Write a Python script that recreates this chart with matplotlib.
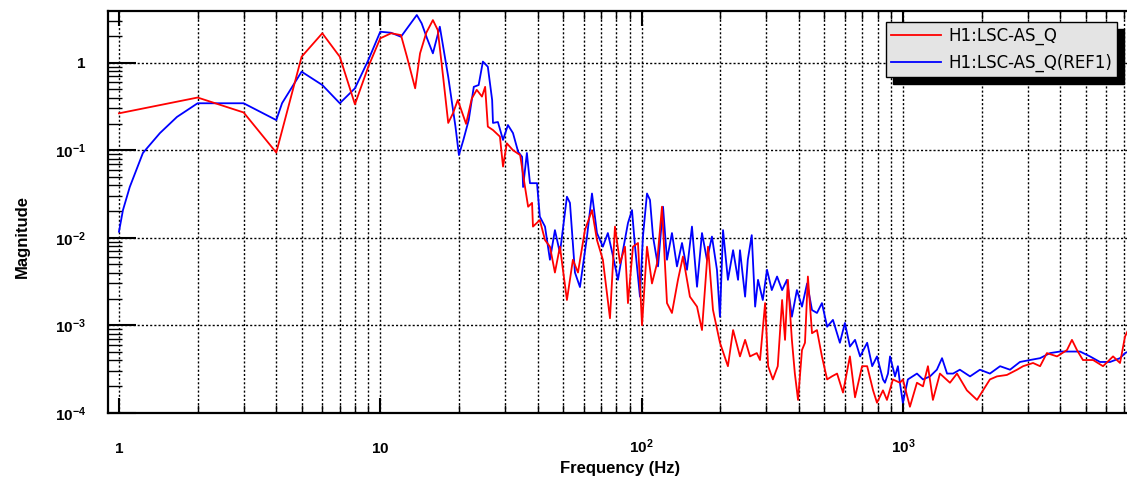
import matplotlib
matplotlib.use("Agg")
import matplotlib.pyplot as plt
from matplotlib.ticker import FixedLocator, FixedFormatter, LogLocator, NullFormatter

# (frequency Hz, magnitude)
red_pts = [
    (1, 0.264), (2, 0.40), (3, 0.27), (4, 0.094), (5, 1.17), (6, 2.17), (7, 1.17),
    (8, 0.335), (9, 0.90), (10, 1.90), (11, 2.17), (12, 2.07), (12.65, 1.17),
    (13.6, 0.51), (14.2, 1.28), (15.0, 2.2), (15.9, 3.07), (16.6, 2.36), (17.4, 0.69),
    (18.2, 0.205), (19.0, 0.266), (19.8, 0.375), (21.3, 0.20), (22.4, 0.39),
    (23.4, 0.49), (24.5, 0.41), (25.2, 0.53), (25.8, 0.186), (27.0, 0.17),
    (28.7, 0.143), (29.5, 0.065), (30.5, 0.12), (32.2, 0.10), (34.3, 0.088),
    (35.8, 0.038), (36.8, 0.0226), (38.1, 0.025), (38.4, 0.0134), (40.8, 0.0159),
    (42.7, 0.0094), (44.6, 0.0079), (46.6, 0.0040), (48.7, 0.0079), (51.8, 0.00194),
    (54.6, 0.0056), (57.1, 0.0040), (60.7, 0.0122), (64.6, 0.0207), (67.5, 0.0094),
    (71.1, 0.0056), (75.7, 0.0012), (79.1, 0.0134), (82.7, 0.0051), (86.4, 0.0079),
    (88.7, 0.00179), (92.7, 0.0079), (96.9, 0.0087), (100.4, 0.0010), (104.9, 0.0079),
    (109.6, 0.0030), (114.6, 0.0051), (119.7, 0.0226), (125.1, 0.00179),
    (130.7, 0.00138), (137.8, 0.0033), (144.0, 0.0061), (153.1, 0.00212),
    (163.0, 0.00163), (170.3, 0.00088), (179.6, 0.0079), (187.6, 0.0015),
    (199.5, 0.00063), (214, 0.00034), (224, 0.00088), (238, 0.00044), (249, 0.00068),
    (260, 0.00044), (276, 0.00048), (284, 0.00040), (297, 0.00179), (305, 0.00034),
    (318, 0.00024), (332, 0.00034), (345, 0.00194), (354, 0.00068), (363, 0.0033),
    (376, 0.00068), (386, 0.00028), (397, 0.00014), (411, 0.00052), (422, 0.00063),
    (433, 0.0036), (449, 0.00081), (469, 0.00088), (490, 0.00044), (513, 0.00024),
    (535, 0.00026), (560, 0.00028), (590, 0.00017), (627, 0.00044), (656, 0.00015),
    (698, 0.00034), (730, 0.00034), (769, 0.00018), (796, 0.00013), (839, 0.00018),
    (869, 0.00014), (916, 0.00024), (974, 0.00022), (1000, 0.00024), (1064, 0.000117),
    (1132, 0.00022), (1194, 0.00020), (1247, 0.00034), (1303, 0.00014), (1386, 0.00028),
    (1514, 0.00022), (1611, 0.00028), (1758, 0.00018), (1922, 0.00014), (2027, 0.00018),
    (2153, 0.00024), (2291, 0.00026), (2500, 0.00027), (2735, 0.00031), (2884, 0.00034),
    (3148, 0.00037), (3350, 0.00034), (3557, 0.00048), (3890, 0.00044), (4246, 0.00052),
    (4436, 0.00068), (4637, 0.00052), (4887, 0.00040), (5345, 0.00040), (5834, 0.00034),
    (6372, 0.00044), (6776, 0.00037), (7080, 0.00074), (7300, 0.0009),
]

blue_pts = [
    (1, 0.0117), (1.036, 0.0207), (1.10, 0.038), (1.235, 0.093), (1.435, 0.157),
    (1.667, 0.24), (2, 0.344), (3, 0.344), (4, 0.221), (4.21, 0.345), (5, 0.79),
    (6, 0.556), (7, 0.344), (8, 0.51), (9, 1.07), (10, 2.26), (11, 2.20), (12, 1.98),
    (13.8, 3.51), (14.4, 2.82), (15.1, 1.90), (15.9, 1.28), (16.9, 2.58), (18.2, 0.69),
    (19.4, 0.186), (20.0, 0.088), (20.8, 0.131), (21.8, 0.221), (22.8, 0.53),
    (23.8, 0.556), (24.7, 1.03), (25.8, 0.90), (26.8, 0.375), (27.0, 0.205),
    (28.2, 0.21), (29.5, 0.131), (30.8, 0.194), (32.2, 0.157), (33.7, 0.096),
    (34.9, 0.084), (35.2, 0.038), (36.4, 0.093), (37.4, 0.042), (39.8, 0.042),
    (40.8, 0.0174), (42.7, 0.0134), (44.6, 0.0056), (46.6, 0.0122), (48.7, 0.0067),
    (51.8, 0.0294), (53.2, 0.025), (55.6, 0.0040), (58.1, 0.00273), (61.8, 0.0102),
    (64.6, 0.032), (67.5, 0.0113), (71.1, 0.0079), (74.3, 0.0113), (77.8, 0.0061),
    (81.2, 0.0033), (84.9, 0.0072), (88.7, 0.0147), (91.9, 0.0207), (94.4, 0.0079),
    (98.6, 0.00212), (101.2, 0.0103), (104.9, 0.032), (107.7, 0.027), (110.6, 0.0103),
    (115.6, 0.0047), (120.8, 0.0226), (125.1, 0.0056), (130.7, 0.0113), (136.6, 0.0047),
    (142.8, 0.0087), (149.2, 0.0043), (155.9, 0.0134), (163.0, 0.00275), (170.3, 0.0113),
    (177.9, 0.0056), (185.9, 0.0103), (194.3, 0.0043), (199.5, 0.00125), (205, 0.0122),
    (214, 0.0033), (224, 0.0072), (234, 0.0033), (238, 0.0072), (249, 0.00212),
    (255, 0.0056), (264, 0.0107), (272, 0.00163), (279, 0.0033), (291, 0.00194),
    (302, 0.0043), (315, 0.00252), (330, 0.0036), (345, 0.00252), (360, 0.0033),
    (376, 0.00125), (393, 0.00252), (411, 0.00163), (430, 0.0030), (449, 0.00149),
    (469, 0.00138), (490, 0.00179), (513, 0.00096), (540, 0.00115), (574, 0.00063),
    (600, 0.00106), (627, 0.00057), (656, 0.00068), (686, 0.00044), (730, 0.00063),
    (763, 0.00034), (796, 0.00044), (839, 0.00024), (854, 0.00022), (877, 0.00028),
    (893, 0.00044), (933, 0.00026), (957, 0.00034), (974, 0.00022), (1000, 0.00013),
    (1045, 0.00024), (1132, 0.00028), (1194, 0.00024), (1270, 0.00026), (1349, 0.00031),
    (1412, 0.00042), (1476, 0.00028), (1556, 0.00028), (1652, 0.00031), (1807, 0.00026),
    (1972, 0.00031), (2153, 0.00028), (2355, 0.00034), (2570, 0.00031), (2805, 0.00038),
    (3063, 0.00040), (3350, 0.00042), (3656, 0.00048), (3990, 0.00050), (4357, 0.00050),
    (4764, 0.00050), (5200, 0.00044), (5678, 0.00038), (6206, 0.00038), (6776, 0.00042),
    (7080, 0.00048), (7300, 0.00050),
]

red_freq, red_mag = zip(*red_pts)
blue_freq, blue_mag = zip(*blue_pts)

series_labels = ["H1:LSC-AS_Q", "H1:LSC-AS_Q(REF1)"]
x_ticks = [1, 10, 100, 1000]
x_ticklabels = [r"$\mathbf{1}$", r"$\mathbf{10}$", r"$\mathbf{10^{2}}$", r"$\mathbf{10^{3}}$"]
y_ticks = [1e-4, 1e-3, 1e-2, 1e-1, 1]
y_ticklabels = [r"$\mathbf{10^{-4}}$", r"$\mathbf{10^{-3}}$", r"$\mathbf{10^{-2}}$",
                r"$\mathbf{10^{-1}}$", r"$\mathbf{1}$"]

plt.rcParams["font.family"] = ["Liberation Sans", "DejaVu Sans"]
plt.rcParams["mathtext.fontset"] = "custom"
plt.rcParams["mathtext.rm"] = "Liberation Sans"
plt.rcParams["mathtext.bf"] = "Liberation Sans:bold"

fig = plt.figure(figsize=(11.27, 4.79), dpi=100)
# axes run past the right edge of the picture, like the cropped original
ax = fig.add_axes([108 / 1127, 1 - 412.7 / 479, 1032 / 1127, 401.7 / 479])

ax.plot(red_freq, red_mag, color="#ff0000", lw=1.3, label=series_labels[0], zorder=3)
ax.plot(blue_freq, blue_mag, color="#0000ff", lw=1.3, label=series_labels[1], zorder=2)

ax.set_xscale("log")
ax.set_yscale("log")
ax.set_xlim(0.908, 8080)
ax.set_ylim(1e-4, 3.9)

ax.xaxis.set_major_locator(FixedLocator(x_ticks))
ax.xaxis.set_major_formatter(FixedFormatter(x_ticklabels))
ax.xaxis.set_minor_locator(LogLocator(base=10, subs=range(2, 10), numticks=20))
ax.xaxis.set_minor_formatter(NullFormatter())
ax.yaxis.set_major_locator(FixedLocator(y_ticks))
ax.yaxis.set_major_formatter(FixedFormatter(y_ticklabels))
ax.yaxis.set_minor_locator(LogLocator(base=10, subs=range(2, 10), numticks=20))
ax.yaxis.set_minor_formatter(NullFormatter())

ax.grid(True, which="major", axis="both", color="black", lw=1.0, ls=(0, (1.5, 1.5)))
ax.grid(True, which="minor", axis="x", color="black", lw=1.0, ls=(0, (1.5, 1.5)))

ax.tick_params(axis="both", which="major", direction="in", width=1.5,
               top=True, right=False, labelsize=11, colors="black")
ax.tick_params(axis="both", which="minor", direction="in", width=1.0,
               top=True, right=False)
ax.tick_params(axis="x", which="major", length=11, pad=29)
ax.tick_params(axis="x", which="minor", length=6)
ax.tick_params(axis="y", which="major", length=20, pad=16)
ax.tick_params(axis="y", which="minor", length=10)
# keep the plain and the powered x labels on one baseline
for t in ax.xaxis.get_major_ticks():
    t.label1.set_verticalalignment("baseline")

for sp in ax.spines.values():
    sp.set_linewidth(1.6)

fig.text(620 / 1127, 1 - 468 / 479, "Frequency (Hz)", ha="center", va="center",
         fontsize=12, fontweight="bold")
fig.text(22 / 1127, 1 - 236 / 479, "Magnitude", ha="center", va="center",
         rotation=90, fontsize=12, fontweight="bold")

leg = ax.legend(loc="upper right", bbox_to_anchor=(1117 / 1127, 1 - 22 / 479),
                bbox_transform=fig.transFigure, borderaxespad=0,
                prop={"family": "DejaVu Sans", "size": 12}, handlelength=3.0,
                handletextpad=0.4, labelspacing=0.5, borderpad=0.3, fancybox=False,
                facecolor="#e4e4e4", edgecolor="black", framealpha=1,
                shadow={"ox": 5, "oy": -5, "color": "black", "alpha": 1})
leg.get_frame().set_linewidth(1.0)

fig.savefig("out.png", dpi=100)
